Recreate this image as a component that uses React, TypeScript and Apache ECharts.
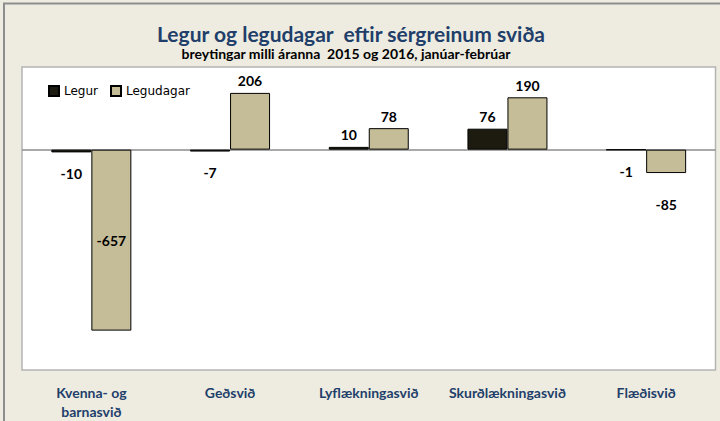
import React, { useEffect, useRef } from "react";
import * as echarts from "echarts";

const categories = ["Kvenna- og\nbarnasvið", "Geðsvið", "Lyflækningasvið", "Skurðlækningasvið", "Flæðisvið"];
const legur = [-10, -7, 10, 76, -1];
const legudagar = [-657, 206, 78, 190, -85];
const seriesNames = ["Legur", "Legudagar"];
const titleText = "Legur og legudagar  eftir sérgreinum sviða";
const subtitleText = "breytingar milli áranna  2015 og 2016, janúar-febrúar";

const labelFont = { fontFamily: "Lato", fontWeight: "bold" as const, fontSize: 14, color: "#000" };

function buildData(values: number[], negDistance: number) {
  return values.map((v) => {
    let position = v >= 0 ? "top" : "bottom";
    let distance = v >= 0 ? 5 : negDistance;
    if (Math.abs(v) > 300) {
      position = "inside";
      distance = 0;
    }
    return { value: v, label: { position, distance } };
  });
}

export default function App() {
  const ref = useRef<HTMLDivElement>(null);
  useEffect(() => {
    if (!ref.current) return;
    const chart = echarts.init(ref.current, undefined, { renderer: "svg" });
    chart.setOption({
      animation: false,
      backgroundColor: "#EEECE1",
      graphic: [
        {
          type: "rect",
          z: -10,
          shape: { x: 4, y: 3.5, width: 740, height: 440 },
          style: { fill: "#EEECE1", stroke: "#8E8E8E", lineWidth: 2 },
        },
      ],
      title: [
        {
          text: titleText,
          left: 346,
          textAlign: "center",
          top: 18,
          textStyle: { fontFamily: "Lato", fontWeight: "bold", fontSize: 21, color: "#1F3F6A" },
        },
        {
          text: subtitleText,
          left: 341,
          textAlign: "center",
          top: 41,
          textStyle: { fontFamily: "Lato", fontWeight: "bold", fontSize: 14, color: "#000" },
        },
      ],
      legend: {
        left: 43,
        top: 80,
        itemWidth: 10,
        itemHeight: 10,
        itemGap: 12,
        icon: "rect",
        textStyle: { fontFamily: "DejaVu Sans", fontSize: 12, color: "#000" },
        data: seriesNames,
      },
      grid: {
        left: 22,
        right: 4.5,
        top: 67,
        bottom: 49,
        show: true,
        backgroundColor: "#FFFFFF",
        borderColor: "#B4B4B4",
        borderWidth: 1.5,
      },
      xAxis: {
        type: "category",
        data: categories,
        axisLine: { show: false },
        axisTick: { show: false },
        axisLabel: {
          interval: 0,
          margin: 13,
          fontFamily: "Lato",
          fontWeight: "bold",
          fontSize: 14,
          lineHeight: 19,
          color: "#1F3F6A",
        },
      },
      yAxis: {
        type: "value",
        min: -800,
        max: 300,
        show: false,
        splitLine: { show: false },
      },
      series: [
        {
          name: seriesNames[0],
          type: "bar",
          barWidth: 40,
          barGap: "0%",
          itemStyle: { color: "#1D1B10", borderColor: "#000", borderWidth: 1 },
          label: { show: true, ...labelFont },
          data: buildData(legur, 14),
          markLine: {
            silent: true,
            symbol: "none",
            label: { show: false },
            lineStyle: { color: "#8C8C8C", type: "solid", width: 1.5 },
            data: [{ yAxis: 0 }],
            z: 1,
          },
        },
        {
          name: seriesNames[1],
          type: "bar",
          barWidth: 40,
          barGap: "0%",
          itemStyle: { color: "#C4BD97", borderColor: "#000", borderWidth: 1 },
          label: { show: true, ...labelFont },
          data: buildData(legudagar, 24),
        },
      ],
    });
    return () => chart.dispose();
  }, []);
  return <div ref={ref} style={{ position: "fixed", left: 0, top: 0, width: 720, height: 421 }} />;
}
